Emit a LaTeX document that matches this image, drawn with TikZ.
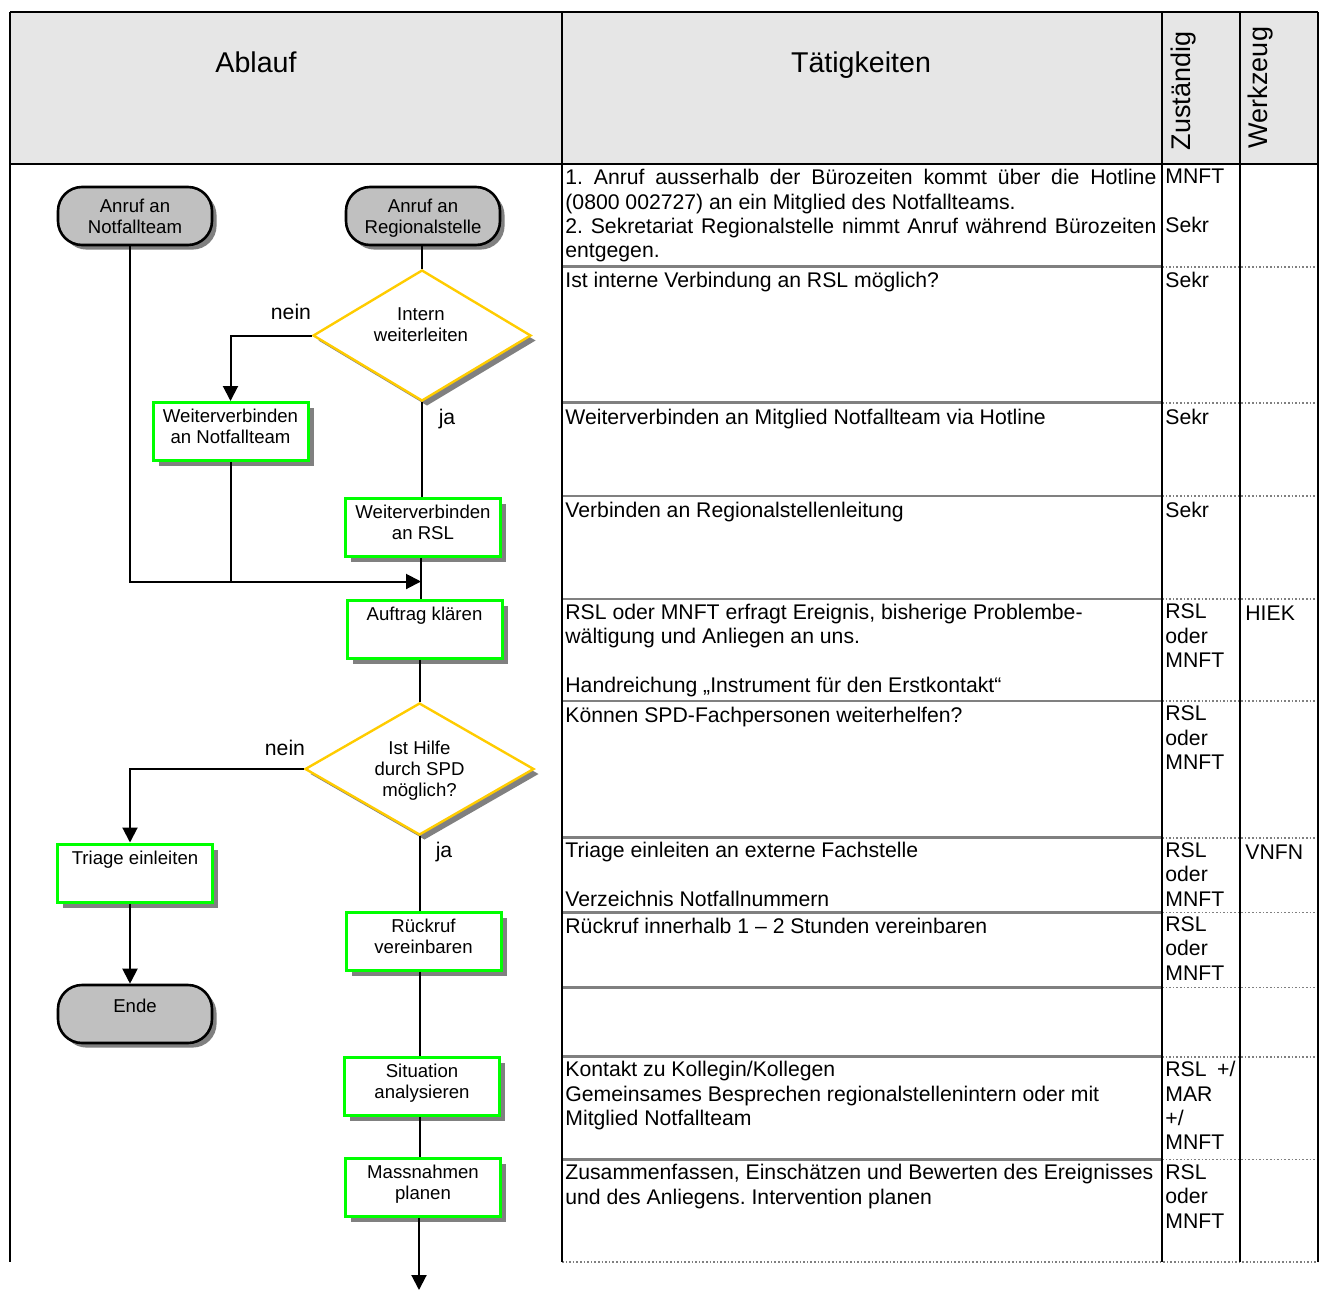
\documentclass[tikz,border=0pt]{standalone}
\usepackage{fontspec}
\setmainfont{Liberation Sans}
\usepackage{tikz}
\usetikzlibrary{positioning}
\usetikzlibrary{shapes.geometric}
\usetikzlibrary{shadows}
\usetikzlibrary{arrows.meta}
\definecolor{headgray}{RGB}{230,230,230}
\definecolor{termgray}{RGB}{192,192,192}
\definecolor{shadegray}{RGB}{128,128,128}
\definecolor{linegray}{RGB}{128,128,128}
\definecolor{boxgreen}{RGB}{0,255,0}
\definecolor{decyellow}{RGB}{255,204,0}
\newcommand{\tabfont}{\fontsize{10.6}{12.2}\selectfont}
\newcommand{\flowfont}{\fontsize{9.3}{10.5}\selectfont}
\newcommand{\headfont}{\fontsize{14.3}{17}\selectfont}
\newcommand{\rotfont}{\fontsize{13.5}{16}\selectfont}
\frenchspacing

\begin{document}
\begin{tikzpicture}[x=0.5pt,y=-0.5pt,
  term/.style={draw,line width=1.3pt,fill=termgray,rounded corners=12pt,
    minimum width=77pt,minimum height=29pt,inner sep=0pt,
    drop shadow={shadow xshift=2.3pt,shadow yshift=-2.3pt,fill=shadegray,opacity=1}},
  flowbox/.style={draw=boxgreen,line width=1.5pt,fill=white,
    minimum width=77.5pt,minimum height=29pt,inner sep=0pt,
    drop shadow={shadow xshift=2.8pt,shadow yshift=-2.8pt,fill=shadegray,opacity=1}},
  decision/.style={diamond,draw=decyellow,line width=1.2pt,fill=white,
    minimum width=109pt,minimum height=65.5pt,inner sep=0pt,
    drop shadow={shadow xshift=2.5pt,shadow yshift=-2.5pt,fill=shadegray,opacity=1}},
  flowtxt/.style={anchor=north,inner sep=0pt,align=center,font=\flowfont,
    execute at begin node=\strut},
  dectxt/.style={inner sep=0pt,align=center,font=\flowfont},
  lbl/.style={anchor=base,inner sep=0pt,font=\tabfont},
  tabtxt/.style={anchor=north west,inner sep=0pt,align=left,font=\tabfont,
    execute at begin node=\strut},
  conn/.style={line width=1pt},
  arr/.style={line width=1pt,-{Triangle[length=7.5pt,width=7.5pt]}}]
  \useasboundingbox (0,0) rectangle (1322,1290);

  % table frame
  \fill[headgray] (10,12) rectangle (1318,164);
  \foreach \y in {266.7,402.7,496,599,701,837.7,912.3,987.3,1056.7,1159.3} {
    \draw[linegray,line width=1.3pt] (562,\y) -- (1162,\y);
    \draw[linegray,line width=0.8pt,densely dotted] (1162,\y) -- (1318,\y);
  }
  \draw[linegray,line width=0.8pt,densely dotted] (562,1262) -- (1318,1262);
  \foreach \x in {10,562,1162,1240,1318}
    \draw[line width=1pt] (\x,12) -- (\x,1262);
  \draw[line width=1.2pt] (10,12) -- (1318,12);
  \draw[line width=1.2pt] (10,164) -- (1318,164);

  % header
  \node[font=\headfont,anchor=base] (h-ablauf) at (256,72.7) {Ablauf};
  \node[font=\headfont,anchor=base] (h-taet) at (861,72.7) {Tätigkeiten};
  \node[font=\rotfont,anchor=base,rotate=90] (h-zust) at (1190,91) {Zuständig};
  \node[font=\rotfont,anchor=base,rotate=90] (h-werk) at (1267,87.5) {Werkzeug};

  % Taetigkeiten
  \node[tabtxt] (t1) at (565,169) {\makebox[295.5pt][s]{1. Anruf ausserhalb der Bürozeiten kommt über die Hotline}\\
    (0800 002727) an ein Mitglied des Notfallteams.\\
    \makebox[295.5pt][s]{2. Sekretariat Regionalstelle nimmt Anruf während Bürozeiten}\\
    entgegen.};
  \node[tabtxt] (t2) at (565,270.5) {Ist interne Verbindung an RSL möglich?};
  \node[tabtxt] (t3) at (565,407) {Weiterverbinden an Mitglied Notfallteam via Hotline};
  \node[tabtxt] (t4) at (565,500) {Verbinden an Regionalstellenleitung};
  \node[tabtxt] (t5) at (565,603.5) {RSL oder MNFT erfragt Ereignis, bisherige Problembe-\\
    wältigung und Anliegen an uns.\\[12.2pt]
    Handreichung „Instrument für den Erstkontakt“};
  \node[tabtxt] (t6) at (565,705.5) {Können SPD-Fachpersonen weiterhelfen?};
  \node[tabtxt] (t7) at (565,842) {Triage einleiten an externe Fachstelle\\[12.2pt]
    Verzeichnis Notfallnummern};
  \node[tabtxt] (t8) at (565,916) {Rückruf innerhalb 1 – 2 Stunden vereinbaren};
  \node[tabtxt] (t10) at (565,1061) {Kontakt zu Kollegin/Kollegen\\
    Gemeinsames Besprechen regionalstellenintern oder mit\\
    Mitglied Notfallteam};
  \node[tabtxt] (t11) at (565,1164) {Zusammenfassen, Einschätzen und Bewerten des Ereignisses\\
    und des Anliegens. Intervention planen};

  % Zustaendig / Werkzeug
  \node[tabtxt] (z1) at (1165,169) {MNFT\\[12.2pt]Sekr};
  \node[tabtxt] (z2) at (1165,270.5) {Sekr};
  \node[tabtxt] (z3) at (1165,407) {Sekr};
  \node[tabtxt] (z4) at (1165,500) {Sekr};
  \node[tabtxt] (z5) at (1165,603.5) {RSL\\oder\\MNFT};
  \node[tabtxt] (z6) at (1165,705.5) {RSL\\oder\\MNFT};
  \node[tabtxt] (z7) at (1165,842) {RSL\\oder\\MNFT};
  \node[tabtxt] (z8) at (1165,916) {RSL\\oder\\MNFT};
  \node[tabtxt] (z10) at (1165,1061) {\makebox[35pt][s]{RSL +/}\\MAR\\+/\\MNFT};
  \node[tabtxt] (z11) at (1165,1164) {RSL\\oder\\MNFT};
  \node[tabtxt] (w5) at (1245,603.5) {HIEK};
  \node[tabtxt] (w7) at (1245,842) {VNFN};

  % Ablauf
  \node[term] (nt) at (135,216) {};
  \node[flowtxt] (nt-t) at ([yshift=-6.5pt]nt.north) {Anruf an\\Notfallteam};
  \node[term] (ar) at (423,216) {};
  \node[flowtxt] (ar-t) at ([yshift=-6.5pt]ar.north) {Anruf an\\Regionalstelle};
  \node[decision] (d1) at (422,335.5) {};
  \node[dectxt] (d1-t) at (421,325) {Intern\\weiterleiten};
  \node[flowbox] (wnt) at (230.5,431.5) {};
  \node[flowtxt] (wnt-t) at ([yshift=-4pt]wnt.north) {Weiterverbinden\\an Notfallteam};
  \node[flowbox] (wrsl) at (423,527) {};
  \node[flowtxt] (wrsl-t) at ([yshift=-4pt]wrsl.north) {Weiterverbinden\\an RSL};
  \coordinate (join) at (421,581.5);
  \node[flowbox] (auftrag) at (424.5,629) {};
  \node[flowtxt] (auftrag-t) at ([yshift=-3.5pt]auftrag.north) {Auftrag klären};
  \node[decision,minimum width=114.5pt,minimum height=66pt] (d2) at (419.5,769) {};
  \node[dectxt] (d2-t) at (419.5,771) {Ist Hilfe\\durch SPD\\möglich?};
  \node[flowbox] (triage) at (135,873) {};
  \node[flowtxt] (triage-t) at ([yshift=-3.5pt]triage.north) {Triage einleiten};
  \node[term] (ende) at (135,1014) {};
  \node[flowtxt] (ende-t) at ([yshift=-7pt]ende.north) {Ende};
  \node[flowbox] (rueck) at (423.5,941) {};
  \node[flowtxt] (rueck-t) at ([yshift=-4pt]rueck.north) {Rückruf\\vereinbaren};
  \node[flowbox] (sit) at (422,1086) {};
  \node[flowtxt] (sit-t) at ([yshift=-4pt]sit.north) {Situation\\analysieren};
  \node[flowbox] (mass) at (423,1187) {};
  \node[flowtxt] (mass-t) at ([yshift=-4pt]mass.north) {Massnahmen\\planen};
  \coordinate (weiter) at (419,1290);

  \node[lbl] (nein1) at (291,319) {nein};
  \node[lbl] (ja1) at (447,424) {ja};
  \node[lbl] (nein2) at (285,755) {nein};
  \node[lbl] (ja2) at (444,857) {ja};

  % connectors
  \draw[conn] (ar.south -| d1.north) -- (d1.north);
  \draw[arr] (d1.west) -| (wnt.north);
  \draw[conn] (d1.south) -- (d1.south |- wrsl.north);
  \draw[conn] (wrsl.south -| join) -- (auftrag.north -| join);
  \draw[arr] ([xshift=-2.5pt]nt.south) |- (join);
  \draw[conn] (wnt.south) -- (wnt.south |- join);
  \draw[conn] (auftrag.south -| d2.north) -- (d2.north);
  \draw[arr] (d2.west) -| ([xshift=-2.5pt]triage.north);
  \draw[arr] ([xshift=-2.5pt]triage.south) -- ([xshift=-2.5pt]ende.north);
  \draw[conn] (d2.south) -- (d2.south |- rueck.north);
  \draw[conn] (rueck.south -| d2.south) -- (sit.north -| d2.south);
  \draw[conn] (sit.south -| d2.south) -- (mass.north -| d2.south);
  \draw[arr] (mass.south -| weiter) -- (weiter);
\end{tikzpicture}
\end{document}
